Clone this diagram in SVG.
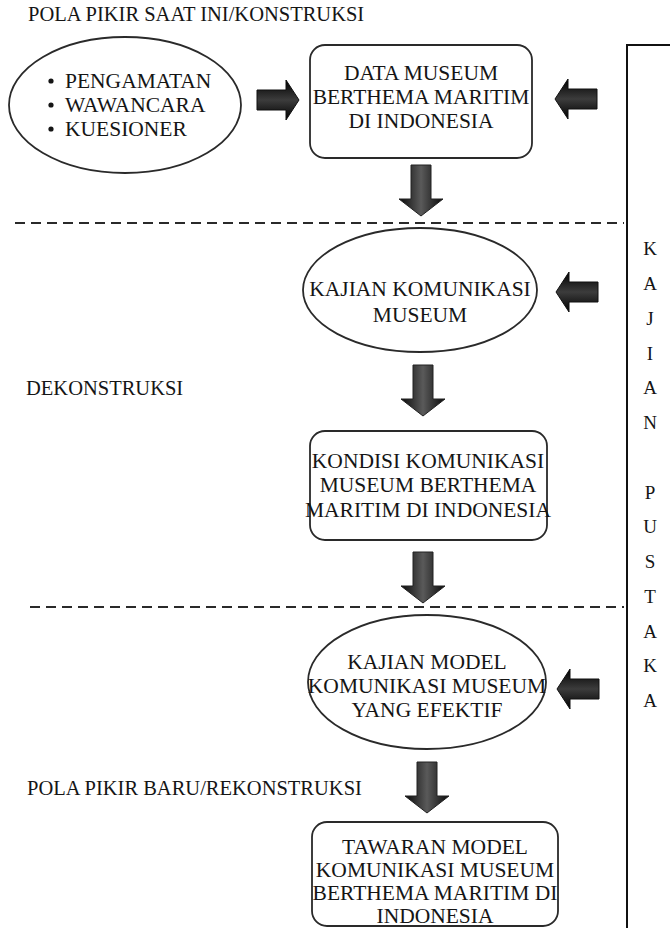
<svg xmlns="http://www.w3.org/2000/svg" xmlns:xlink="http://www.w3.org/1999/xlink" width="670" height="928" viewBox="0 0 670 928">
<style>
  text { font-family: "Liberation Serif", "Times New Roman", serif; fill: #151515; }
  .lbl { font-size: 20.5px; }
  .nt { font-size: 21.5px; text-anchor: middle; }
  .pl { font-size: 19px; text-anchor: middle; }
  .shape { fill: #fff; stroke: #2a2a2a; stroke-width: 1.8; }
  .dash { stroke: #2a2a2a; stroke-width: 2; stroke-dasharray: 10 6; fill: none; }
</style>
<defs>
  <linearGradient id="gDown" x1="0" y1="0" x2="1" y2="0">
    <stop offset="0" stop-color="#0a0a0a"/>
    <stop offset="0.5" stop-color="#5a5a5a"/>
    <stop offset="1" stop-color="#0a0a0a"/>
  </linearGradient>
  <linearGradient id="gSide" x1="0" y1="0" x2="0" y2="1">
    <stop offset="0" stop-color="#000"/>
    <stop offset="0.5" stop-color="#3c3c3c"/>
    <stop offset="1" stop-color="#000"/>
  </linearGradient>
  <path id="down" d="M-10,0 H10 V34 H22 L0,51 L-22,34 H-10 Z" fill="url(#gDown)" stroke="#222" stroke-width="1"/>
  <path id="right" d="M0,-10 H29 V-20 L42,0 L29,20 V10 H0 Z" fill="url(#gSide)" stroke="#111" stroke-width="1"/>
</defs>

<g id="section-labels">
  <text class="lbl" x="28" y="21">POLA PIKIR SAAT INI/KONSTRUKSI</text>
  <text class="lbl" x="26" y="395">DEKONSTRUKSI</text>
  <text class="lbl" x="27" y="795">POLA PIKIR BARU/REKONSTRUKSI</text>
</g>

<g id="dividers">
  <line class="dash" x1="15" y1="223" x2="624" y2="223"/>
  <line class="dash" x1="30" y1="607" x2="624" y2="607"/>
</g>

<g id="kajian-pustaka">
  <path d="M627,928 V45 H672" fill="none" stroke="#111" stroke-width="2"/>
  <text class="pl" x="650" y="255">K</text>
  <text class="pl" x="650" y="290">A</text>
  <text class="pl" x="650" y="325">J</text>
  <text class="pl" x="650" y="360">I</text>
  <text class="pl" x="650" y="394">A</text>
  <text class="pl" x="650" y="429">N</text>
  <text class="pl" x="650" y="499">P</text>
  <text class="pl" x="650" y="533">U</text>
  <text class="pl" x="650" y="568">S</text>
  <text class="pl" x="650" y="603">T</text>
  <text class="pl" x="650" y="638">A</text>
  <text class="pl" x="650" y="672">K</text>
  <text class="pl" x="650" y="707">A</text>
</g>

<g id="node-metode">
  <ellipse class="shape" cx="125" cy="105" rx="116" ry="68"/>
  <circle cx="51" cy="81" r="2.6" fill="#151515"/>
  <circle cx="51" cy="105" r="2.6" fill="#151515"/>
  <circle cx="51" cy="129" r="2.6" fill="#151515"/>
  <text class="lbl" x="65" y="88" style="font-size:21.5px">PENGAMATAN</text>
  <text class="lbl" x="65" y="112" style="font-size:21.5px">WAWANCARA</text>
  <text class="lbl" x="65" y="136" style="font-size:21.5px">KUESIONER</text>
</g>

<g id="node-data-museum">
  <rect class="shape" x="310" y="45" width="222" height="113" rx="15" ry="15"/>
  <text class="nt" x="421" y="80">DATA MUSEUM</text>
  <text class="nt" x="421" y="104">BERTHEMA MARITIM</text>
  <text class="nt" x="421" y="128">DI INDONESIA</text>
</g>

<g id="node-kajian-komunikasi">
  <ellipse class="shape" cx="420" cy="290" rx="117" ry="62"/>
  <text class="nt" x="420" y="296">KAJIAN KOMUNIKASI</text>
  <text class="nt" x="420" y="322">MUSEUM</text>
</g>

<g id="node-kondisi">
  <rect class="shape" x="310" y="431" width="237" height="109" rx="15" ry="15"/>
  <text class="nt" x="428" y="468">KONDISI KOMUNIKASI</text>
  <text class="nt" x="428" y="492">MUSEUM BERTHEMA</text>
  <text class="nt" x="428" y="517">MARITIM DI INDONESIA</text>
</g>

<g id="node-kajian-model">
  <ellipse class="shape" cx="427" cy="682" rx="119" ry="67"/>
  <text class="nt" x="427" y="669">KAJIAN MODEL</text>
  <text class="nt" x="427" y="693">KOMUNIKASI MUSEUM</text>
  <text class="nt" x="427" y="717">YANG EFEKTIF</text>
</g>

<g id="node-tawaran">
  <rect class="shape" x="312" y="822" width="246" height="104" rx="15" ry="15"/>
  <text class="nt" x="435" y="854">TAWARAN MODEL</text>
  <text class="nt" x="435" y="877">KOMUNIKASI MUSEUM</text>
  <text class="nt" x="435" y="900">BERTHEMA MARITIM DI</text>
  <text class="nt" x="435" y="923">INDONESIA</text>
</g>

<g id="connectors">
  <use xlink:href="#right" transform="translate(257,100)"/>
  <use xlink:href="#right" transform="translate(597,99) scale(-1,1)"/>
  <use xlink:href="#right" transform="translate(598,292) scale(-1,1)"/>
  <use xlink:href="#right" transform="translate(599,689) scale(-1,1)"/>
  <use xlink:href="#down" transform="translate(421,165)"/>
  <use xlink:href="#down" transform="translate(423,365)"/>
  <use xlink:href="#down" transform="translate(423,552)"/>
  <use xlink:href="#down" transform="translate(427,762)"/>
</g>
</svg>
